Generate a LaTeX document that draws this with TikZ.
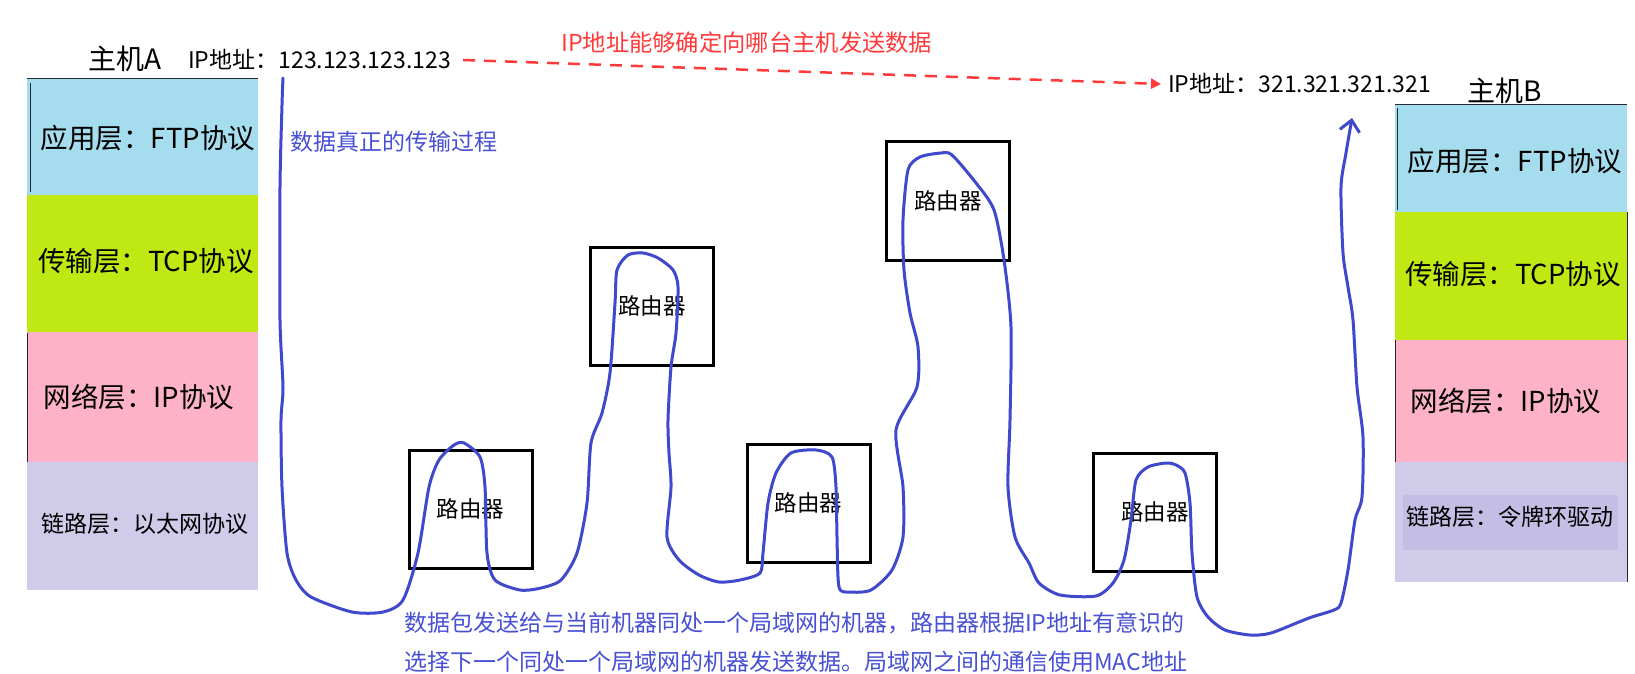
\documentclass[tikz,border=0pt]{standalone}
\usepackage{fontspec}
\newfontfamily\cjk{Noto Sans CJK SC}
\usetikzlibrary{arrows.meta}
\definecolor{appc}{RGB}{166,221,238}
\definecolor{tranc}{RGB}{192,233,20}
\definecolor{netc}{RGB}{253,178,200}
\definecolor{linkc}{RGB}{207,203,233}
\definecolor{linkd}{RGB}{197,190,228}
\definecolor{trailc}{RGB}{64,72,204}
\definecolor{btext}{RGB}{72,80,212}
\definecolor{redc}{RGB}{255,58,58}
\definecolor{edgec}{RGB}{40,40,50}
\tikzset{
  layer/.style={inner sep=0pt, draw=none, text=black, font=\cjk\fontsize{27.5}{31}\selectfont},
  linklabel/.style={inner sep=0pt, draw=none, text=black, font=\cjk\fontsize{23}{27}\selectfont},
  router/.style={draw=black, line width=3pt, minimum width=123pt, minimum height=118pt, inner sep=0pt, font=\cjk\fontsize{22.5}{26}\selectfont},
  trail/.style={draw=trailc, line width=3pt, line join=round, line cap=round},
  bluetext/.style={text=btext, inner sep=0pt, font=\cjk\fontsize{23}{27}\selectfont},
  iptext/.style={text=black, inner sep=0pt, font=\cjk\fontsize{23}{27}\selectfont},
  hosttext/.style={text=black, inner sep=0pt, font=\cjk\fontsize{28}{32}\selectfont},
  edgeline/.style={draw=edgec, line width=1pt}
}
\begin{document}
\begin{tikzpicture}[x=1pt,y=-1pt]
\useasboundingbox[fill=white] (0,0) rectangle (1635,674);

% Host A stack
\node[layer, fill=appc,  minimum width=231pt, minimum height=116pt] (a1) at (142.5,137) {};
\node[layer, fill=tranc, minimum width=231pt, minimum height=137pt] (a2) at (142.5,263.5) {};
\node[layer, fill=netc,  minimum width=231pt, minimum height=130pt] (a3) at (142.5,397) {};
\node[layer, fill=linkc, minimum width=231pt, minimum height=128pt] (a4) at (142.5,526) {};
\node[layer] (a1t) at (148,138) {应用层：FTP协议};
\node[layer] (a2t) at (146,261) {传输层：TCP协议};
\node[layer] (a3t) at (139,397) {网络层：IP协议};
\node[linklabel] (a4t) at (145,524) {链路层：以太网协议};
\draw[edgeline] (a1.north west) -- (a1.north east);
\draw[edgeline] (30,83) -- (30,192);
\draw[edgeline] (27,333) -- (27,462);

% Host B stack
\node[layer, fill=appc,  minimum width=232pt, minimum height=107pt] (b1) at (1511,158.5) {};
\node[layer, fill=tranc, minimum width=232pt, minimum height=128pt] (b2) at (1511,276) {};
\node[layer, fill=netc,  minimum width=232pt, minimum height=122pt] (b3) at (1511,401) {};
\node[layer, fill=linkc, minimum width=232pt, minimum height=120pt] (b4) at (1511,522) {};
\node[layer] (b1t) at (1515,161) {应用层：FTP协议};
\node[layer] (b2t) at (1513,274) {传输层：TCP协议};
\node[layer] (b3t) at (1506,401) {网络层：IP协议};
\node[fill=linkd, minimum width=215pt, minimum height=55pt, inner sep=0pt] (b4r) at (1510.5,522.5) {};
\node[linklabel] (b4t) at (1510,517) {链路层：令牌环驱动};
\draw[edgeline] (b1.north west) -- (b1.north east);
\draw[edgeline] (1397,108) -- (1397,210);
\draw[edgeline] (1395,340) -- (1395,462);
\draw[edgeline] (1627,212) -- (1627,582);

% Host labels and addresses
\node[hosttext] (hA) at (125,59) {主机A};
\node[hosttext] (hB) at (1505,91) {主机B};
\node[iptext, anchor=west] (ipA) at (188,59) {IP地址：123.123.123.123};
\node[iptext, anchor=west] (ipB) at (1168,83) {IP地址：321.321.321.321};
\node[text=redc, inner sep=0pt, font=\cjk\fontsize{23.3}{27}\selectfont, anchor=west] (redlbl) at (561,43) {IP地址能够确定向哪台主机发送数据};
\draw[draw=redc, line width=2.5pt, dash pattern=on 12pt off 9pt, -{Triangle[length=10pt,width=10pt]}]
  ([xshift=12pt,yshift=-1pt]ipA.east) -- ([xshift=-7pt,yshift=-1pt]ipB.west);

% Routers
\node[router] (r1) at (470.5,509) {路由器};
\node[router] (r2) at (652,306) {路由器};
\node[router] (r3) at (948,201) {路由器};
\node[router] (r4) at (808.5,503) {路由器};
\node[router] (r5) at (1155,512) {路由器};

% Blue texts
\node[bluetext, anchor=west] (t1) at (290,142) {数据真正的传输过程};
\node[bluetext, anchor=west] (t2) at (404,623) {数据包发送给与当前机器同处一个局域网的机器，路由器根据IP地址有意识的};
\node[bluetext, anchor=west] (t3) at (404,662) {选择下一个同处一个局域网的机器发送数据。局域网之间的通信使用MAC地址};

% Hand-drawn data path
\draw[trail, -{Straight Barb[length=11pt,width=20pt,line width=3pt]}] plot[smooth, tension=0.45] coordinates {
(283,78) (282,105) (280,187) (280,320) (283,387) (281,420) (282,487) (287,553)
(296,580) (311,597) (352,612) (383,612) (403,600) (418,553) (429,487) (439,460)
(454,445) (464,443) (480,457) (485,487) (487,553) (495,580) (520,590) (541,588)
(561,580) (577,553) (587,503) (591,443) (602,413) (610,373) (615,303) (617,270)
(628,255) (643,253) (658,258) (673,270) (678,287) (676,333) (671,367) (668,420)
(669,453) (671,487) (667,537) (679,560) (699,575) (719,582) (740,580) (760,573)
(763,553) (768,503) (776,473) (791,453) (816,450) (832,457) (836,487) (837,537)
(839,587) (850,592) (871,590) (892,570) (903,537) (903,487) (896,430) (917,387)
(918,347) (910,313) (904,270) (903,220) (908,170) (920,157) (941,153) (952,155)
(976,183) (994,210) (1004,260) (1011,327) (1010,420) (1008,487) (1015,537) (1029,563)
(1039,583) (1060,595) (1096,596) (1113,583) (1124,560) (1131,520) (1136,480) (1148,467)
(1166,463) (1176,465) (1185,473) (1190,503) (1192,553) (1197,597) (1208,617) (1225,630)
(1250,635) (1271,633) (1309,618) (1334,610) (1341,603) (1348,570) (1355,520) (1362,497)
(1363,437) (1357,387) (1353,320) (1348,287) (1343,253) (1341,187) (1346,153) (1352,118)
};
\end{tikzpicture}
\end{document}
